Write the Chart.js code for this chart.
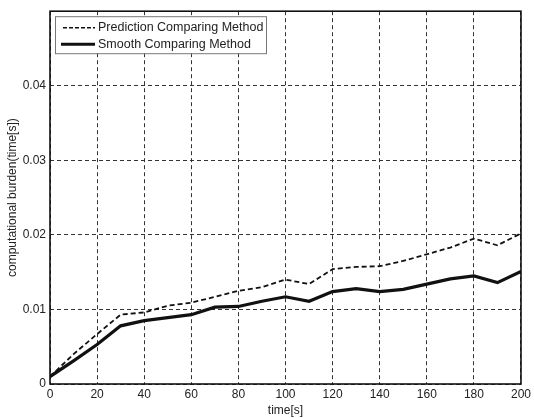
<!DOCTYPE html>
<html>
<head>
<meta charset="utf-8">
<script src="https://cdn.jsdelivr.net/npm/chart.js@4.4.1/dist/chart.umd.min.js"></script>
<style>
  html, body { margin: 0; padding: 0; background: #fff; }
  #wrap { width: 534px; height: 418px; }
</style>
</head>
<body>
<div id="wrap"><canvas id="burdenChart" width="534" height="418"></canvas></div>
<script>
// thoi gian (s)
const timeLabels = [0, 10, 20, 30, 40, 50, 60, 70, 80, 90, 100, 110, 120, 130, 140, 150, 160, 170, 180, 190, 200];

// gia tri doc tu hinh
const predictionValues = [0.0010, 0.0040, 0.0067, 0.0093, 0.0096, 0.0105, 0.0109, 0.0117, 0.0125, 0.0130, 0.0140,
  0.0134, 0.0154, 0.0157, 0.0158, 0.0165, 0.0174, 0.0183, 0.0195, 0.0186, 0.0202];
const smoothValues = [0.0010, 0.0031, 0.0053, 0.0078, 0.0085, 0.0089, 0.0093, 0.0103, 0.0104, 0.0111, 0.0117,
  0.0111, 0.0124, 0.0128, 0.0124, 0.0127, 0.0134, 0.0141, 0.0145, 0.0136, 0.0151];

const seriesNames = ["Prediction Comparing Method", "Smooth Comparing Method"];
const yTicks = [0, 0.01, 0.02, 0.03, 0.04, 0.05];

const FONT = "'Liberation Sans', Arial, Helvetica, sans-serif";

// ve khung + legend ben trong vung bieu do
const boxPlugin = {
  id: "boxPlugin",
  afterDraw(chart) {
    const { ctx, chartArea: a } = chart;
    ctx.save();
    ctx.strokeStyle = "#111";
    ctx.lineWidth = 1.6;
    ctx.setLineDash([]);
    ctx.strokeRect(a.left, a.top, a.right - a.left, a.bottom - a.top);

    // legend
    const lx = a.left + 5, ly = a.top + 5, lw = 211, lh = 37;
    ctx.fillStyle = "#fff";
    ctx.fillRect(lx, ly, lw, lh);
    ctx.strokeStyle = "#777";
    ctx.lineWidth = 1;
    ctx.strokeRect(lx + 0.5, ly + 0.5, lw, lh);

    ctx.strokeStyle = "#111";
    ctx.lineWidth = 1.6;
    ctx.setLineDash([4, 2]);
    ctx.beginPath();
    ctx.moveTo(lx + 8, ly + 11.5);
    ctx.lineTo(lx + 40, ly + 11.5);
    ctx.stroke();

    ctx.setLineDash([]);
    ctx.lineWidth = 3;
    ctx.beginPath();
    ctx.moveTo(lx + 6, ly + 28);
    ctx.lineTo(lx + 40, ly + 28);
    ctx.stroke();

    ctx.fillStyle = "#222";
    ctx.font = "12.5px " + FONT;
    ctx.textBaseline = "middle";
    ctx.fillText(seriesNames[0], lx + 43, ly + 11);
    ctx.fillText(seriesNames[1], lx + 43, ly + 28);
    ctx.restore();
  }
};

const ctx = document.getElementById("burdenChart");

new Chart(ctx, {
  type: "line",
  data: {
    datasets: [
      {
        label: seriesNames[0],
        data: timeLabels.map((t, i) => ({ x: t, y: predictionValues[i] })),
        borderColor: "#111",
        borderWidth: 1.8,
        borderDash: [5, 3],
        pointRadius: 0,
        tension: 0,
        fill: false
      },
      {
        label: seriesNames[1],
        data: timeLabels.map((t, i) => ({ x: t, y: smoothValues[i] })),
        borderColor: "#111",
        borderWidth: 3.2,
        pointRadius: 0,
        tension: 0,
        fill: false
      }
    ]
  },
  options: {
    responsive: false,
    animation: false,
    layout: { padding: { left: 5, right: 8, top: 8, bottom: 0 } },
    plugins: {
      legend: { display: false },
      tooltip: { enabled: false }
    },
    scales: {
      x: {
        type: "linear",
        min: 0,
        max: 200,
        border: { display: false, dash: [4, 3] },
        grid: {
          color: "#333",
          lineWidth: 1,
          drawTicks: false
        },
        ticks: {
          stepSize: 20,
          padding: 3,
          maxRotation: 0,
          color: "#222",
          font: { family: FONT, size: 12 }
        },
        title: {
          display: true,
          text: "time[s]",
          color: "#222",
          padding: { top: 0, bottom: 0 },
          font: { family: FONT, size: 12 }
        },
        afterFit(scale) { scale.height = 34; }
      },
      y: {
        type: "linear",
        min: 0,
        max: 0.05,
        border: { display: false, dash: [4, 3] },
        grid: {
          color: "#333",
          lineWidth: 1,
          drawTicks: false
        },
        afterBuildTicks(scale) { scale.ticks = yTicks.map(v => ({ value: v })); },
        ticks: {
          padding: 4,
          color: "#222",
          font: { family: FONT, size: 12 },
          callback: function (value) {
            if (value === 0) return "0";
            if (value >= 0.05) return "";
            return value.toFixed(2);
          }
        },
        title: {
          display: true,
          text: "computational burden(time[s])",
          color: "#222",
          padding: { top: 0, bottom: 4 },
          font: { family: FONT, size: 12 }
        },
        afterFit(scale) { scale.width = 45; }
      }
    }
  },
  plugins: [boxPlugin]
});
</script>
</body>
</html>
